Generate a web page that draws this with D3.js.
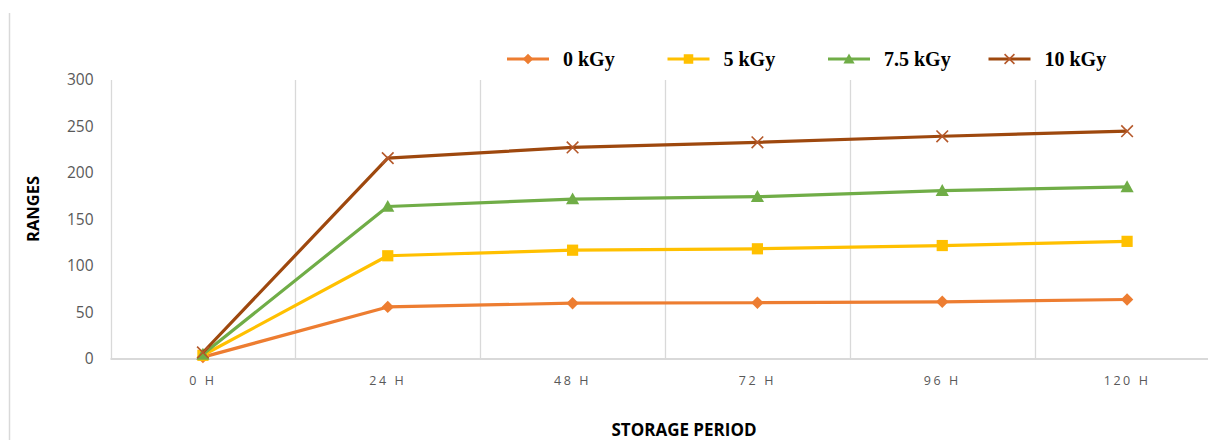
<!DOCTYPE html>
<html>
<head>
<meta charset="utf-8">
<script src="https://cdn.jsdelivr.net/npm/d3@7"></script>
<style>
  html, body { margin: 0; padding: 0; background: #fff; }
  svg { display: block; }
</style>
</head>
<body>
<svg id="chart" width="1208" height="440"></svg>
<script>
// Storage period categories
const periods = ["0 H", "24 H", "48 H", "72 H", "96 H", "120 H"];

// Series names (irradiation dose)
const seriesNames = ["0 kGy", "5 kGy", "7.5 kGy", "10 kGy"];

// Measured ranges per dose
const dose0 = [2, 56, 60, 60.5, 61.5, 64];
const dose5 = [4, 111, 117, 118.5, 122, 126.5];
const dose75 = [5, 164, 172, 174.5, 181, 185];
const dose10 = [7, 216, 227.5, 233, 239.5, 245];

// Y axis ticks
const yTicks = [0, 50, 100, 150, 200, 250, 300];

const seriesValues = [dose0, dose5, dose75, dose10];
const colors = ["#ED7D31", "#FFC000", "#70AD47", "#9E480E"];
const markerColors = ["#ED7D31", "#FFC000", "#70AD47", "#B5582A"];
const markerTypes = ["diamond", "square", "triangle", "cross"];

const svg = d3.select("#chart");

// Outer chart-area border (left edge only visible)
svg.append("line")
  .attr("x1", 9.5).attr("x2", 9.5)
  .attr("y1", 13).attr("y2", 440)
  .attr("stroke", "#d9d9d9").attr("stroke-width", 1.5);

const plot = { left: 110.5, right: 1219.5, top: 80, bottom: 359 };

const x = d3.scaleBand()
  .domain(periods)
  .range([plot.left, plot.right])
  .padding(0);

const y = d3.scaleLinear()
  .domain([0, 300])
  .range([plot.bottom, plot.top]);

// Vertical gridlines at category boundaries
const boundaries = periods.map(p => x(p));
svg.append("g")
  .selectAll("line")
  .data(boundaries)
  .join("line")
  .attr("x1", d => Math.round(d) + 0.5)
  .attr("x2", d => Math.round(d) + 0.5)
  .attr("y1", plot.top)
  .attr("y2", plot.bottom)
  .attr("stroke", "#d9d9d9")
  .attr("stroke-width", 1.3);

// X axis baseline
svg.append("line")
  .attr("x1", plot.left).attr("x2", 1208)
  .attr("y1", plot.bottom).attr("y2", plot.bottom)
  .attr("stroke", "#d9d9d9").attr("stroke-width", 2);

// Y tick labels
const yAxis = d3.axisLeft(y).tickValues(yTicks).tickSize(0).tickPadding(17);
const yg = svg.append("g")
  .attr("transform", `translate(${plot.left},0)`)
  .call(yAxis);
yg.select(".domain").remove();
yg.selectAll("text")
  .attr("fill", "#595959")
  .style("font-family", "'Open Sans', sans-serif")
  .style("font-size", "15.5px");

// X tick labels
const xAxis = d3.axisBottom(x).tickSize(0).tickPadding(17);
const xg = svg.append("g")
  .attr("transform", `translate(0,${plot.bottom})`)
  .call(xAxis);
xg.select(".domain").remove();
xg.selectAll("text")
  .attr("fill", "#595959")
  .style("font-family", "'Open Sans', sans-serif")
  .style("font-size", "12.5px")
  .style("letter-spacing", "2.6px");

// Axis titles
svg.append("text")
  .attr("transform", "translate(39,209) rotate(-90)")
  .attr("text-anchor", "middle")
  .attr("fill", "#000")
  .style("font-family", "'Open Sans', sans-serif")
  .style("font-weight", "700")
  .style("font-size", "16.5px")
  .text("RANGES");

svg.append("text")
  .attr("x", 684)
  .attr("y", 436)
  .attr("text-anchor", "middle")
  .attr("fill", "#000")
  .style("font-family", "'Open Sans', sans-serif")
  .style("font-weight", "700")
  .style("font-size", "17px")
  .text("STORAGE PERIOD");

// Marker drawing helper
function drawMarker(g, type, color, cx, cy, scale) {
  const s = scale || 1;
  if (type === "diamond") {
    const r = 6.2 * s;
    g.append("path")
      .attr("d", `M${cx},${cy - r}L${cx + r},${cy}L${cx},${cy + r}L${cx - r},${cy}Z`)
      .attr("fill", color);
  } else if (type === "square") {
    const h = 5.6 * s;
    g.append("rect")
      .attr("x", cx - h).attr("y", cy - h)
      .attr("width", 2 * h).attr("height", 2 * h)
      .attr("fill", color);
  } else if (type === "triangle") {
    const h = 6.6 * s;
    g.append("path")
      .attr("d", `M${cx},${cy - h}L${cx + h},${cy + h * 0.8}L${cx - h},${cy + h * 0.8}Z`)
      .attr("fill", color);
  } else {
    const h = 5.8 * s;
    g.append("path")
      .attr("d", `M${cx - h},${cy - h}L${cx + h},${cy + h}M${cx - h},${cy + h}L${cx + h},${cy - h}`)
      .attr("stroke", color)
      .attr("stroke-width", 1.6)
      .attr("fill", "none");
  }
}

// Series lines and markers
const line = d3.line()
  .x((d, i) => x(periods[i]) + x.bandwidth() / 2)
  .y(d => y(d));

seriesValues.forEach((vals, si) => {
  const g = svg.append("g");
  g.append("path")
    .datum(vals)
    .attr("d", line)
    .attr("fill", "none")
    .attr("stroke", colors[si])
    .attr("stroke-width", 3.2)
    .attr("stroke-linejoin", "round");
  vals.forEach((v, i) => {
    drawMarker(g, markerTypes[si], markerColors[si],
      x(periods[i]) + x.bandwidth() / 2, y(v));
  });
});

// Legend: evenly spaced entries
const legend = svg.append("g");
const legendStart = 507;
const legendStep = 160.5;
const ly = 59;
seriesNames.forEach((name, si) => {
  const lx = legendStart + si * legendStep;
  const g = legend.append("g");
  g.append("line")
    .attr("x1", lx).attr("x2", lx + 42)
    .attr("y1", ly).attr("y2", ly)
    .attr("stroke", colors[si])
    .attr("stroke-width", 3.2);
  drawMarker(g, markerTypes[si], markerColors[si], lx + 21, ly, 0.85);
  g.append("text")
    .attr("x", lx + 56)
    .attr("y", ly + 7)
    .attr("fill", "#000")
    .style("font-family", "'Liberation Serif', 'Times New Roman', serif")
    .style("font-weight", "700")
    .style("font-size", "20px")
    .text(name);
});
</script>
</body>
</html>
